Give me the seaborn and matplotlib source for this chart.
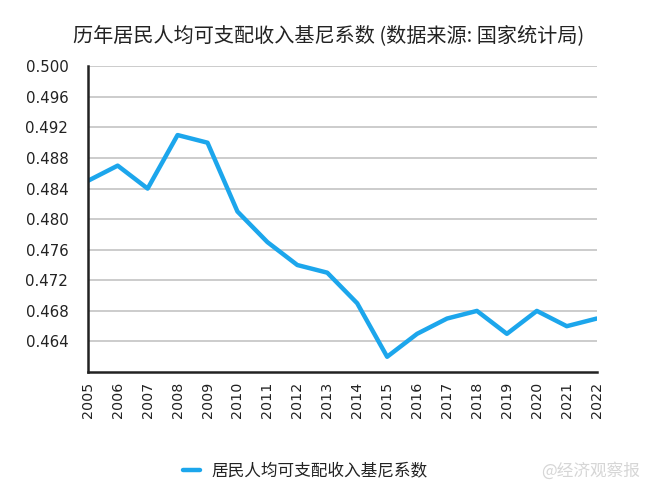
import matplotlib
matplotlib.use('Agg')
import matplotlib.pyplot as plt
import seaborn as sns
import pandas as pd

years = list(range(2005, 2023))
gini = [0.485, 0.487, 0.484, 0.491, 0.490, 0.481, 0.477, 0.474, 0.473,
        0.469, 0.462, 0.465, 0.467, 0.468, 0.465, 0.468, 0.466, 0.467]
y_ticks = [0.464, 0.468, 0.472, 0.476, 0.480, 0.484, 0.488, 0.492, 0.496, 0.500]
series_name = '居民人均可支配收入基尼系数'
title = '历年居民人均可支配收入基尼系数 (数据来源: 国家统计局)'

sns.set_style('white')
plt.rcParams['font.family'] = ['Noto Sans CJK SC', 'DejaVu Sans']

df = pd.DataFrame({'year': years, 'gini': gini})

fig = plt.figure(figsize=(6.5, 4.87), dpi=100)
ax = fig.add_axes([0.135, 0.236, 0.783, 0.628])
sns.lineplot(data=df, x='year', y='gini', ax=ax, color='#1ca6ec', linewidth=3.2,
             label=series_name, legend=False)

ax.set_xlim(2005, 2022)
ax.set_ylim(0.460, 0.500)
ax.set_yticks(y_ticks)
ax.set_yticklabels(['{:.3f}'.format(v) for v in y_ticks], family='DejaVu Sans', fontsize=10.8, color='#222222')
ax.set_xticks(years)
ax.set_xticklabels([str(y) for y in years], rotation=90, family='DejaVu Sans', fontsize=10.3, color='#222222')
ax.tick_params(axis='x', direction='inout', length=6, width=1.6, color='#222222', pad=4)
ax.tick_params(axis='y', length=0, pad=14)
ax.yaxis.grid(True, color='#c8c8c8', linewidth=1.3)
ax.set_axisbelow(True)
for side in ['top', 'right']:
    ax.spines[side].set_visible(False)
for side in ['left', 'bottom']:
    ax.spines[side].set_color('#222222')
    ax.spines[side].set_linewidth(1.8)
ax.set_xlabel('')
ax.set_ylabel('')

fig.text(0.505, 0.926, title, ha='center', va='center', fontsize=14.5, color='#222222')

handles, labels = ax.get_legend_handles_labels()
fig.legend(handles, labels, loc='center', bbox_to_anchor=(0.47, 0.033), frameon=False,
           fontsize=12, handlelength=1.0, handletextpad=0.7, labelcolor='#222222')

fig.text(0.985, 0.033, '@经济观察报', ha='right', va='center', fontsize=12, color='#d6d6d6')

fig.savefig('out.png', dpi=100)
